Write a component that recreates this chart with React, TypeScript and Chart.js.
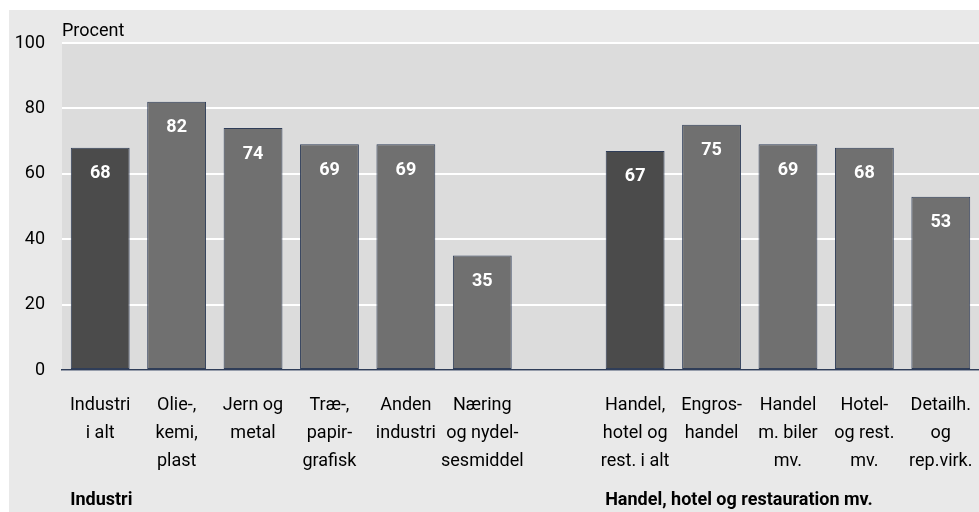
import React, { useEffect, useRef } from "react";
import { Chart, registerables } from "chart.js";

Chart.register(...registerables);

const categories: string[][] = [
  ["Industri", "i alt"],
  ["Olie-,", "kemi,", "plast"],
  ["Jern og", "metal"],
  ["Træ-,", "papir-", "grafisk"],
  ["Anden", "industri"],
  ["Næring", "og nydel-", "sesmiddel"],
  [""],
  ["Handel,", "hotel og", "rest. i alt"],
  ["Engros-", "handel"],
  ["Handel", "m. biler", "mv."],
  ["Hotel-", "og rest.", "mv."],
  ["Detailh.", "og", "rep.virk."],
];

const values: (number | null)[] = [68, 82, 74, 69, 69, 35, null, 67, 75, 69, 68, 53];

const isTotal: boolean[] = [true, false, false, false, false, false, false, true, false, false, false, false];

const groupLabels: string[] = ["Industri", "Handel, hotel og restauration mv."];
const groupStartIndex: number[] = [0, 7];

const yTicks: number[] = [0, 20, 40, 60, 80, 100];
const yUnit = "Procent";

const FONT = "Roboto, 'Liberation Sans', sans-serif";

export default function App() {
  const ref = useRef<HTMLCanvasElement | null>(null);

  useEffect(() => {
    document.body.style.margin = "0";
    const canvas = ref.current;
    if (!canvas) return;

    const backgroundPlugin = {
      id: "bgPlugin",
      beforeDraw(chart: any) {
        const { ctx, chartArea } = chart;
        ctx.save();
        ctx.fillStyle = "#ffffff";
        ctx.fillRect(0, 0, chart.width, chart.height);
        ctx.fillStyle = "#e9e9e9";
        ctx.fillRect(9, 10, chart.width - 9, chart.height - 10);
        ctx.fillStyle = "#dcdcdc";
        ctx.fillRect(chartArea.left, chartArea.top, chartArea.right - chartArea.left, chartArea.bottom - chartArea.top);
        ctx.restore();
      },
    };

    const labelsPlugin = {
      id: "labelsPlugin",
      afterDatasetsDraw(chart: any) {
        const { ctx, chartArea } = chart;
        const meta = chart.getDatasetMeta(0);
        ctx.save();
        ctx.fillStyle = "#ffffff";
        ctx.font = `bold 18px ${FONT}`;
        ctx.textAlign = "center";
        ctx.textBaseline = "middle";
        meta.data.forEach((bar: any, i: number) => {
          const v = values[i];
          if (v === null || v === undefined) return;
          ctx.fillText(String(v), bar.x, bar.y + 26);
        });
        // unit label
        ctx.fillStyle = "#000000";
        ctx.font = `18px ${FONT}`;
        ctx.textAlign = "left";
        ctx.textBaseline = "alphabetic";
        ctx.fillText(yUnit, chartArea.left, 36);
        // group labels
        ctx.font = `bold 18px ${FONT}`;
        const xs = chart.scales.x;
        groupLabels.forEach((g, gi) => {
          const idx = groupStartIndex[gi];
          const cx = xs.getPixelForValue(idx);
          ctx.fillText(g, cx - 30, 505);
        });
        ctx.restore();
      },
    };

    const chart = new Chart(canvas, {
      type: "bar",
      data: {
        labels: categories,
        datasets: [
          {
            data: values as any,
            backgroundColor: isTotal.map((t) => (t ? "#4b4b4b" : "#707070")),
            borderColor: "#2f3d58",
            borderWidth: 1,
            borderSkipped: false,
            barPercentage: 0.77,
            categoryPercentage: 1,
          },
        ],
      },
      options: {
        responsive: false,
        animation: false,
        layout: { padding: { left: 0, top: 43, right: 0, bottom: 0 } },
        plugins: {
          legend: { display: false },
          tooltip: { enabled: false },
          title: { display: false },
        },
        scales: {
          x: {
            grid: { display: false, drawTicks: false },
            border: { display: true, color: "#2f3d58", width: 1.5 },
            ticks: {
              color: "#000000",
              font: { family: FONT, size: 18, lineHeight: "28px" } as any,
              padding: 21,
              maxRotation: 0,
              autoSkip: false,
            },
            afterFit(scale: any) {
              scale.height = 142;
              scale.paddingLeft = 0;
              scale.paddingRight = 0;
            },
          },
          y: {
            min: 0,
            max: 100,
            afterBuildTicks(scale: any) {
              scale.ticks = yTicks.map((v) => ({ value: v }));
            },
            grid: { color: "#ffffff", lineWidth: 2, drawTicks: false },
            border: { display: false },
            ticks: {
              color: "#000000",
              font: { family: FONT, size: 18 },
              padding: 17,
            },
            afterFit(scale: any) {
              scale.width = 62;
            },
          },
        },
      },
      plugins: [backgroundPlugin, labelsPlugin],
    });

    return () => chart.destroy();
  }, []);

  return (
    <div style={{ width: 979, height: 512 }}>
      <canvas ref={ref} width={979} height={512} style={{ display: "block" }} />
    </div>
  );
}
